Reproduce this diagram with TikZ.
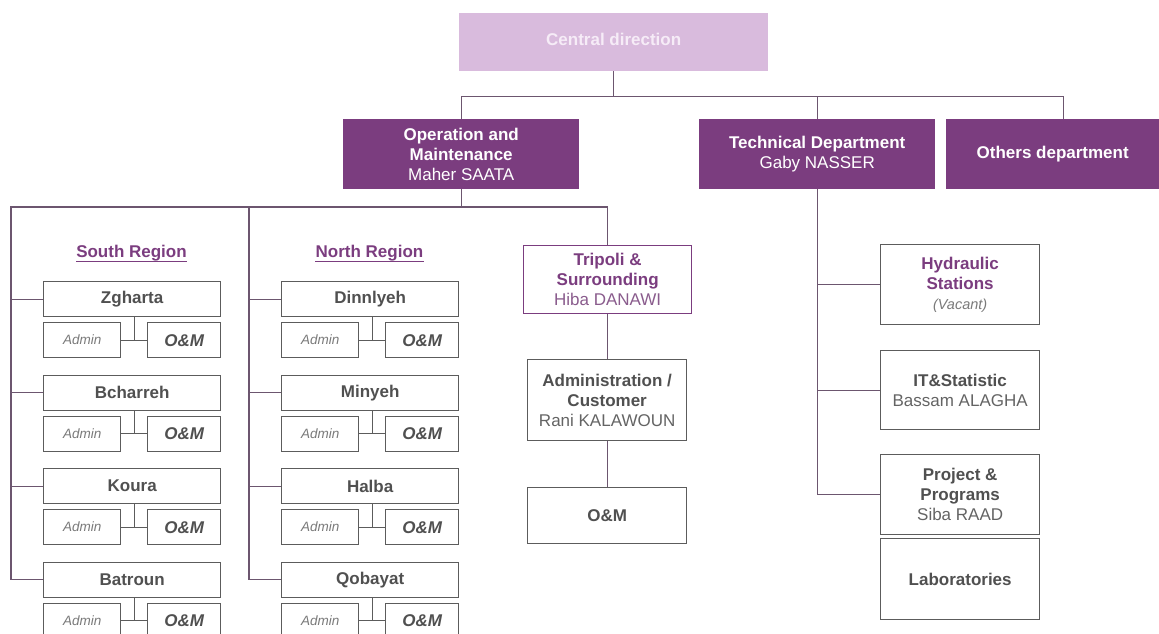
\documentclass[tikz,border=0pt]{standalone}
\usepackage{fontspec}
\setmainfont{Liberation Sans}
\usetikzlibrary{calc}

\definecolor{dpurple}{HTML}{7B3D7F}
\definecolor{lpurple}{HTML}{D9BBDD}
\definecolor{ctext}{HTML}{F6ECF7}
\definecolor{linkc}{HTML}{6C566F}
\definecolor{boxline}{HTML}{5C5C5C}
\definecolor{titletext}{HTML}{505050}
\definecolor{nametext}{HTML}{646464}
\definecolor{admintext}{HTML}{7A7A7A}
\definecolor{ptext}{HTML}{7B3D7F}
\definecolor{pname}{HTML}{8A5C8D}

\newcommand\chartfont{\fontsize{17}{20}\selectfont}
\newcommand\adminfont{\fontsize{13.5}{16}\selectfont}
\newcommand\vacfont{\fontsize{14.5}{18}\selectfont}

\tikzset{
  box/.style={draw=boxline, line width=1.3pt, fill=white, inner sep=0pt,
    align=center, font=\chartfont, text=titletext, anchor=north west},
  dept/.style={fill=dpurple, text=white, inner sep=0pt, align=center,
    font=\chartfont\bfseries, anchor=north west},
  link/.style={draw=linkc, line width=1.2pt},
  sublink/.style={draw=boxline, line width=1.2pt},
  regionlabel/.style={inner sep=0pt, anchor=base, text=ptext, font=\chartfont\bfseries}
}

% one town: title box with its Admin and O&M boxes underneath
\newcommand\regionrow[4]{%
  \node[box, font=\chartfont\bfseries, minimum width=177pt, minimum height=35pt] (#1) at (#3,#4) {#2};
  \node[box, font=\adminfont\itshape, text=admintext, minimum width=77pt, minimum height=35pt] (#1a) at (#3,#4+41) {Admin};
  \node[box, font=\chartfont\bfseries\itshape, minimum width=73pt, minimum height=35pt] (#1o) at (#3+104,#4+41) {O\&M};
  \coordinate (#1m) at ($(#1a.east)!.5!(#1o.west)$);
  \draw[sublink] (#1a.east) -- (#1o.west);
  \draw[sublink] (#1m) -- (#1m |- #1.south);
}

\begin{document}
\begin{tikzpicture}[x=1pt, y=-1pt]
\useasboundingbox (0,0) rectangle (1159,634);
\clip (0,0) rectangle (1159,634);

% top level
\node[fill=lpurple, text=ctext, font=\chartfont\bfseries, inner sep=0pt, anchor=north west,
  minimum width=309pt, minimum height=58pt] (cd) at (459,13) {\raisebox{5pt}{Central direction}};

\node[dept, minimum width=236pt, minimum height=70pt] (om) at (343,119)
  {Operation and\\Maintenance\\\mdseries Maher SAATA};
\node[dept, minimum width=236pt, minimum height=70pt] (td) at (699,119)
  {Technical Department\\\mdseries Gaby NASSER};
\node[dept, minimum width=213pt, minimum height=70pt] (od) at (946,119)
  {Others department};

\coordinate (bus1) at ($(cd.south)+(0,25)$);
\coordinate (odtop) at ($(od.north)+(11,0)$);
\draw[link] (cd.south) -- (bus1);
\draw[link] (om.north) |- (bus1) -| (odtop);
\draw[link] (td.north) -- (td.north |- bus1);

% Operation and Maintenance branch
\node[regionlabel] (south) at (131.5,257) {South Region};
\draw[ptext, line width=1pt] ($(south.base west)+(0,4)$) -- ($(south.base east)+(0,4)$);
\node[regionlabel] (north) at (369.5,257) {North Region};
\draw[ptext, line width=1pt] ($(north.base west)+(0,4)$) -- ($(north.base east)+(0,4)$);

\regionrow{zg}{Zgharta}{43}{281}
\regionrow{bc}{Bcharreh}{43}{374.5}
\regionrow{ko}{Koura}{43}{468}
\regionrow{bt}{Batroun}{43}{561.5}

\regionrow{di}{Dinnlyeh}{281}{281}
\regionrow{mi}{Minyeh}{281}{374.5}
\regionrow{ha}{Halba}{281}{468}
\regionrow{qo}{Qobayat}{281}{561.5}

\node[box, draw=ptext, text=ptext, minimum width=168pt, minimum height=68pt] (tr) at (523,245)
  {\bfseries Tripoli \&\\\bfseries Surrounding\\\textcolor{pname}{Hiba DANAWI}};
\node[box, minimum width=159pt, minimum height=81pt] (ac) at (527,359)
  {\bfseries Administration /\\\bfseries Customer\\\textcolor{nametext}{Rani KALAWOUN}};
\node[box, font=\chartfont\bfseries, minimum width=159pt, minimum height=56pt] (to) at (527,487) {O\&M};

\coordinate (bus2) at ($(om.south)+(0,18)$);
\coordinate (sbus) at (11,207);
\coordinate (nbus) at (249,207);
\draw[link] (om.south) -- (bus2);
\draw[link] (bt.west) -| (sbus) -- (tr.north |- sbus) -- (tr.north);
\draw[link] (qo.west) -| (nbus);
\foreach \t in {zg,bc,ko}{\draw[link] (\t.west) -- (\t.west -| sbus);}
\foreach \t in {di,mi,ha}{\draw[link] (\t.west) -- (\t.west -| nbus);}
\draw[link] (tr.south) -- (tr.south |- ac.north);
\draw[link] (ac.south) -- (to.north);

% Technical Department branch
\node[box, minimum width=159pt, minimum height=80pt] (hy) at (880,244)
  {\textcolor{ptext}{\bfseries Hydraulic}\\\textcolor{ptext}{\bfseries Stations}\\\vacfont\itshape\textcolor{admintext}{(Vacant)}};
\node[box, minimum width=159pt, minimum height=79pt] (it) at (880,350)
  {\bfseries IT\&Statistic\\\textcolor{nametext}{Bassam ALAGHA}};
\node[box, minimum width=159pt, minimum height=80pt] (pp) at (880,454)
  {\bfseries Project \&\\\bfseries Programs\\\textcolor{nametext}{Siba RAAD}};
\node[box, font=\chartfont\bfseries, minimum width=159pt, minimum height=81pt] (la) at (880,538)
  {Laboratories};

\draw[link] (td.south) |- (pp.west);
\draw[link] (hy.west) -- (hy.west -| td.south);
\draw[link] (it.west) -- (it.west -| td.south);
\end{tikzpicture}
\end{document}
